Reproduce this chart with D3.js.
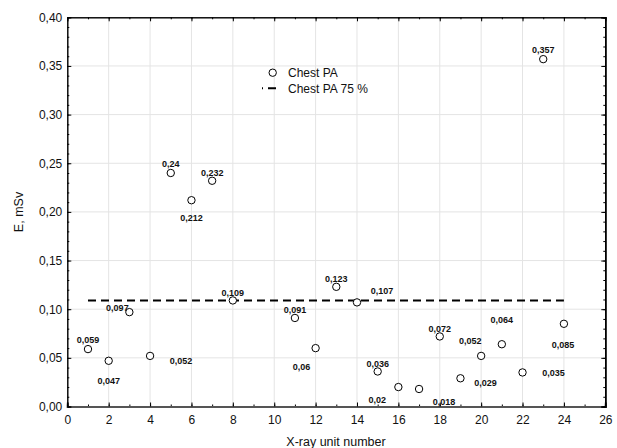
<!DOCTYPE html>
<html><head><meta charset="utf-8">
<script src="https://cdn.jsdelivr.net/npm/d3@7"></script>
<style>body{margin:0;background:#fff}svg{display:block}text{font-family:"Liberation Sans",Arial,sans-serif}</style>
</head><body><svg id="c" width="617" height="448"></svg>
<script>
const units = [1,2,3,4,5,6,7,8,11,12,13,14,15,16,17,18,19,20,21,22,23,24];
const doses = [0.059,0.047,0.097,0.052,0.24,0.212,0.232,0.109,0.091,0.06,0.123,0.107,0.036,0.02,0.018,0.072,0.029,0.052,0.064,0.035,0.357,0.085];
const pointLabels = ["0,059","0,047","0,097","0,052","0,24","0,212","0,232","0,109","0,091","0,06","0,123","0,107","0,036","0,02","0,018","0,072","0,029","0,052","0,064","0,035","0,357","0,085"];
const percentile75 = 0.109;
const refRange = [1, 24];
const xTicks = [0,2,4,6,8,10,12,14,16,18,20,22,24,26];
const yTicks = [0,0.05,0.1,0.15,0.2,0.25,0.3,0.35,0.4];
const seriesNames = ["Chest PA","Chest PA 75 %"];
const xTitle = "X-ray unit number";
const yTitle = "E, mSv";
// label placement offsets (px) relative to each marker
const labelDx = [0,0,-12,31,0,0,0,0,0,-14,0,25,0,-21,25,0,25,-11,0,31,0,-1];
const labelDy = [-9,20,-4,5,-9,18,-8,-8,-8,19,-8,-12,-8,13,13,-8,5,-15,-24,0,-9,21];

const svg = d3.select("#c");
const m = {l:67.3, r:605.3, t:17.3, b:406.5};
const x = d3.scaleLinear().domain([0,26]).range([m.l, m.r]);
const y = d3.scaleLinear().domain([0,0.4]).range([m.b, m.t]);
const fmt = d => d3.format(".2f")(d).replace(".", ",");

// grid
const g = svg.append("g");
g.selectAll(".gx").data(xTicks.slice(1,-1)).join("line")
  .attr("x1", d=>x(d)).attr("x2", d=>x(d)).attr("y1", m.t).attr("y2", m.b)
  .attr("stroke", "#e4e4e4").attr("stroke-width", 1);
g.selectAll(".gy").data(yTicks.slice(1,-1)).join("line")
  .attr("x1", m.l).attr("x2", m.r).attr("y1", d=>y(d)).attr("y2", d=>y(d))
  .attr("stroke", "#e4e4e4").attr("stroke-width", 1);

// axes (inward ticks)
const xMinor = d3.range(0, 27, 1);
const yMinor = d3.range(0, 0.4001, 0.01);
const axB = svg.append("g").attr("transform", `translate(0,${m.b})`)
  .call(d3.axisBottom(x).tickValues(xMinor).tickSize(-2).tickFormat(""));
axB.append("g").call(d3.axisBottom(x).tickValues(xTicks).tickSize(-4).tickPadding(9).tickFormat(d3.format("d")));
const axT = svg.append("g").attr("transform", `translate(0,${m.t})`)
  .call(d3.axisTop(x).tickValues(xMinor).tickSize(-2).tickFormat(""));
axT.append("g").call(d3.axisTop(x).tickValues(xTicks).tickSize(-4).tickFormat(""));
const axL = svg.append("g").attr("transform", `translate(${m.l},0)`)
  .call(d3.axisLeft(y).tickValues(yMinor).tickSize(-2).tickFormat(""));
axL.append("g").call(d3.axisLeft(y).tickValues(yTicks).tickSize(-4).tickPadding(5).tickFormat(fmt));
const axR = svg.append("g").attr("transform", `translate(${m.r},0)`)
  .call(d3.axisRight(y).tickValues(yMinor).tickSize(-2).tickFormat(""));
axR.append("g").call(d3.axisRight(y).tickValues(yTicks).tickSize(-4).tickFormat(""));
svg.selectAll(".domain").attr("stroke", "#000");
svg.selectAll(".tick line").attr("stroke", "#000");
svg.selectAll(".tick text").attr("font-size", 12).attr("fill", "#111")
  .style("font-family", '"Liberation Sans",Arial,sans-serif');
axB.selectAll(".domain").attr("stroke", "#555").attr("stroke-width", 2);
axR.selectAll(".domain").attr("stroke-width", 1.5);

// reference dashed line
svg.append("line").attr("x1", x(refRange[0])).attr("x2", x(refRange[1]))
  .attr("y1", y(percentile75)).attr("y2", y(percentile75))
  .attr("stroke", "#000").attr("stroke-width", 2).attr("stroke-dasharray", "8,5");

// points
svg.selectAll(".pt").data(units).join("circle")
  .attr("cx", d=>x(d)).attr("cy", (d,i)=>y(doses[i])).attr("r", 3.7)
  .attr("fill", "#fff").attr("stroke", "#000").attr("stroke-width", 1);

// point labels
svg.selectAll(".lb").data(units).join("text")
  .attr("x", (d,i)=>x(d)+labelDx[i]).attr("y", (d,i)=>y(doses[i])+labelDy[i])
  .attr("dy", "0.35em").attr("text-anchor", "middle")
  .attr("font-size", 9).attr("font-weight", "bold").attr("fill", "#111")
  .text((d,i)=>pointLabels[i]);

// legend
const lg = svg.append("g");
lg.append("circle").attr("cx", 272.7).attr("cy", 72.7).attr("r", 3.7)
  .attr("fill", "#fff").attr("stroke", "#000");
lg.append("text").attr("x", 288).attr("y", 72.7).attr("dy", "0.35em")
  .attr("font-size", 12).attr("fill", "#111").text(seriesNames[0]);
lg.append("line").attr("x1", 262).attr("x2", 279).attr("y1", 88.3).attr("y2", 88.3)
  .attr("stroke", "#000").attr("stroke-width", 2)
  .attr("stroke-dasharray", "8,5").attr("stroke-dashoffset", 7);
lg.append("text").attr("x", 288).attr("y", 88.3).attr("dy", "0.35em")
  .attr("font-size", 12).attr("fill", "#111").text(seriesNames[1]);

// titles
svg.append("text").attr("x", 336).attr("y", 446).attr("text-anchor", "middle")
  .attr("font-size", 12.5).attr("fill", "#111").text(xTitle);
svg.append("text").attr("transform", `translate(23,212) rotate(-90)`)
  .attr("text-anchor", "middle").attr("font-size", 12.5).attr("fill", "#111").text(yTitle);
</script></body></html>
